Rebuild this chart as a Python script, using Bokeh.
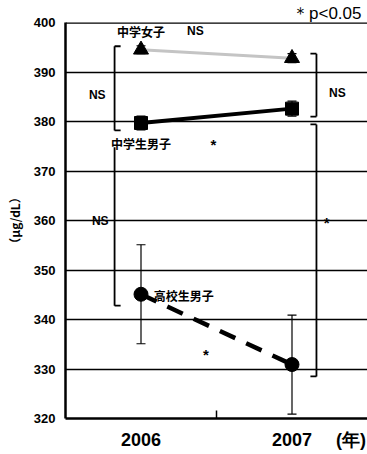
from bokeh.plotting import figure
from bokeh.models import ColumnDataSource, Whisker, TeeHead, FixedTicker, Span
from bokeh.core.properties import value
from bokeh.embed import file_html
from bokeh.resources import INLINE

# ---------------- data ----------------
year_pos = [0.5, 1.5]
x_tick_pos = [0.5, 1.5, 1.89]
x_tick_labels = ["2006", "2007", "(年)"]

girls_jh = [394.5, 392.8]          # 中学女子
girls_jh_sd = [0.8, 0.9]
boys_jh = [379.7, 382.6]           # 中学生男子
boys_jh_sd = [1.4, 1.5]
boys_hs = [345.1, 330.9]           # 高校生男子
boys_hs_sd = [10.0, 10.0]

y_ticks = [320, 330, 340, 350, 360, 370, 380, 390, 400]

# significance brackets: (x of vertical, tick direction, y_top, y_bottom, top tick?)
brackets = [
    (0.325, 0.04, 395.2, 378.2, True),
    (0.325, 0.04, 374.8, 342.8, False),
    (1.662, -0.04, 393.7, 381.0, True),
    (1.662, -0.04, 379.4, 328.5, True),
]
ns_x = [0.86, 0.21, 1.80, 0.23]
ns_y = [398.2, 385.3, 385.7, 360.0]
star_x = [1.73, 0.98, 0.93]
star_y = [359.6, 375.4, 333.0]

series_labels = ["中学女子", "中学生男子", "高校生男子"]

FONT = "Liberation Sans"
CJK = "Noto Sans CJK JP"

p = figure(width=367, height=454, x_range=(0, 2), y_range=(320, 400),
           output_backend="svg", toolbar_location=None,
           min_border_left=65, min_border_right=0, min_border_top=22, min_border_bottom=36)
p.outline_line_color = None
p.background_fill_color = "white"

p.title.text = "＊p<0.05"
p.title.align = "right"
p.title.text_font = FONT
p.title.text_font_style = "normal"
p.title.text_font_size = "17px"
p.title.text_color = "black"
p.title.offset = 6
p.title.standoff = 0

# axes
p.xaxis.ticker = FixedTicker(ticks=x_tick_pos, minor_ticks=[1.0])
p.xaxis.major_label_overrides = dict(zip(x_tick_pos, x_tick_labels))
p.xaxis.major_tick_in = 0
p.xaxis.major_tick_out = 0
p.xaxis.minor_tick_in = 8
p.xaxis.minor_tick_out = 0
p.xaxis.minor_tick_line_width = 1.5
p.xaxis.minor_tick_line_color = "black"
p.xaxis.axis_line_width = 2.5
p.xaxis.axis_line_color = "black"
p.xaxis.major_label_text_font = FONT
p.xaxis.major_label_text_font_style = "bold"
p.xaxis.major_label_text_font_size = "18px"
p.xaxis.major_label_text_color = "black"
p.xaxis.major_label_standoff = 11

p.yaxis.ticker = FixedTicker(ticks=y_ticks)
p.yaxis.major_tick_in = 0
p.yaxis.major_tick_out = 0
p.yaxis.minor_tick_line_color = None
p.yaxis.axis_line_width = 2.5
p.yaxis.axis_line_color = "black"
p.yaxis.major_label_text_font = FONT
p.yaxis.major_label_text_font_style = "bold"
p.yaxis.major_label_text_font_size = "13px"
p.yaxis.major_label_text_color = "black"
p.yaxis.major_label_standoff = 10
p.yaxis.axis_label = "（μg/dL）"
p.yaxis.axis_label_text_font = CJK
p.yaxis.axis_label_text_font_style = "bold"
p.yaxis.axis_label_text_font_size = "12px"
p.yaxis.axis_label_text_color = "black"
p.yaxis.axis_label_standoff = 8

p.xgrid.grid_line_color = None
p.ygrid.ticker = FixedTicker(ticks=y_ticks)
p.ygrid.grid_line_color = "black"
p.ygrid.grid_line_width = 1.5
p.add_layout(Span(location=400, dimension="width", line_color="black", line_width=2.5))

# series
def src_for(vals, sds):
    return ColumnDataSource(dict(x=year_pos, y=vals,
                                 lo=[a - b for a, b in zip(vals, sds)],
                                 hi=[a + b for a, b in zip(vals, sds)]))

src_g = src_for(girls_jh, girls_jh_sd)
src_b = src_for(boys_jh, boys_jh_sd)
src_h = src_for(boys_hs, boys_hs_sd)

for src in (src_g, src_b, src_h):
    p.add_layout(Whisker(source=src, base="x", lower="lo", upper="hi",
                         line_color="black", line_width=1.2,
                         upper_head=TeeHead(size=9, line_color="black", line_width=1.2),
                         lower_head=TeeHead(size=9, line_color="black", line_width=1.2)))

p.line("x", "y", source=src_g, line_color="#c4c4c4", line_width=3)
p.scatter("x", "y", source=src_g, marker="triangle", size=15, color="black")

p.line("x", "y", source=src_b, line_color="black", line_width=4)
p.scatter("x", "y", source=src_b, marker="square", size=13, color="black")

p.line("x", "y", source=src_h, line_color="black", line_width=4.5, line_dash="17 12")
p.scatter("x", "y", source=src_h, marker="circle", size=14, color="black")

# brackets
for bx, dx, ytop, ybot, toptick in brackets:
    p.line([bx, bx], [ytop, ybot], line_color="black", line_width=1.8)
    p.line([bx, bx + dx], [ybot, ybot], line_color="black", line_width=1.8)
    if toptick:
        p.line([bx, bx + dx], [ytop, ytop], line_color="black", line_width=1.8)

# significance text
p.text(ns_x, ns_y, text=["NS"] * len(ns_x), text_font=value(FONT), text_font_style="bold",
       text_font_size="12px", text_align="center", text_baseline="middle", text_color="black")
p.text(star_x, star_y, text=["*"] * len(star_x), text_font=value(FONT), text_font_style="bold",
       text_font_size="15px", text_align="center", text_baseline="middle", text_color="black")

# series labels
p.text([0.5, 0.5], [398.1, 375.6], text=series_labels[:2], text_font=value(CJK),
       text_font_style="bold", text_font_size="12px", text_align="center",
       text_baseline="middle", text_color="black")
p.text([0.585], [344.9], text=series_labels[2:], text_font=value(CJK), text_font_style="bold",
       text_font_size="12px", text_align="left", text_baseline="middle", text_color="black")

open("out.html", "w").write(file_html(p, INLINE))
